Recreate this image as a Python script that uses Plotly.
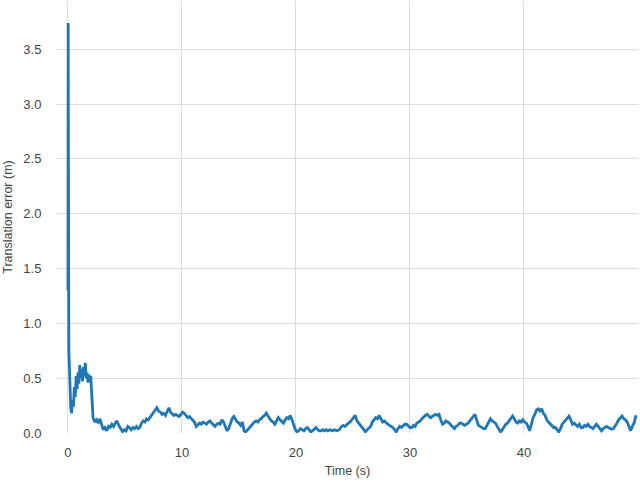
import plotly.graph_objects as go

# translation error over time
time_s = [
    0.0, 0.02, 0.04, 0.06, 0.08, 0.12, 0.18, 0.25, 0.32, 0.40, 0.48, 0.56, 0.64, 0.72, 0.80, 0.88, 0.96,
    1.04, 1.12, 1.20, 1.28, 1.36, 1.44, 1.52, 1.60, 1.68, 1.76, 1.84, 1.92, 2.00, 2.06, 2.12, 2.20,
    2.35, 2.5, 2.65, 2.8, 2.95, 3.1, 3.25, 3.4, 3.55, 3.7, 3.85, 4.0, 4.15, 4.3, 4.45, 4.6, 4.8, 4.95,
    5.1, 5.25, 5.4, 5.55, 5.7, 5.85, 6.0, 6.15, 6.3, 6.45, 6.6, 6.75, 6.9, 7.05, 7.2, 7.35, 7.5, 7.65,
    7.8, 7.95, 8.1, 8.25, 8.4, 8.55, 8.7, 8.85, 9.0, 9.15, 9.3, 9.45, 9.6, 9.75, 9.9, 10.05, 10.2,
    10.35, 10.5, 10.65, 10.8, 10.95, 11.1, 11.25, 11.4, 11.55, 11.7, 11.85, 12.0, 12.15, 12.3, 12.45,
    12.6, 12.75, 12.9, 13.05, 13.2, 13.35, 13.5, 13.65, 13.8, 13.95, 14.1, 14.25, 14.4, 14.55, 14.7,
    14.85, 15.0, 15.15, 15.3, 15.45, 15.6, 15.75, 15.9, 16.05, 16.2, 16.35, 16.5, 16.65, 16.8, 16.95,
    17.1, 17.25, 17.4, 17.55, 17.7, 17.85, 18.0, 18.15, 18.3, 18.45, 18.6, 18.75, 18.9, 19.05, 19.2,
    19.35, 19.5, 19.65, 19.8, 19.95, 20.1, 20.25, 20.4, 20.55, 20.7, 20.85, 21.0, 21.15, 21.3, 21.45,
    21.6, 21.75, 21.9, 22.05, 22.2, 22.35, 22.5, 22.65, 22.8, 23.0, 23.2, 23.4, 23.6, 23.8, 24.0,
    24.15, 24.3, 24.45, 24.6, 24.75, 24.9, 25.05, 25.2, 25.35, 25.5, 25.65, 25.8, 25.95, 26.1, 26.25,
    26.4, 26.55, 26.7, 26.85, 27.0, 27.15, 27.3, 27.45, 27.6, 27.75, 27.9, 28.05, 28.2, 28.35, 28.5,
    28.65, 28.8, 28.95, 29.1, 29.25, 29.4, 29.55, 29.7, 29.85, 30.0, 30.15, 30.3, 30.45, 30.6, 30.75,
    30.9, 31.05, 31.2, 31.35, 31.5, 31.65, 31.8, 31.95, 32.1, 32.25, 32.4, 32.55, 32.7, 32.85, 33.0,
    33.15, 33.3, 33.45, 33.6, 33.75, 33.9, 34.05, 34.2, 34.35, 34.5, 34.65, 34.8, 34.95, 35.1, 35.25,
    35.4, 35.55, 35.7, 35.85, 36.0, 36.15, 36.3, 36.45, 36.6, 36.75, 36.9, 37.05, 37.2, 37.35, 37.5,
    37.65, 37.8, 37.95, 38.1, 38.25, 38.4, 38.55, 38.7, 38.85, 39.0, 39.15, 39.3, 39.45, 39.6, 39.75,
    39.9, 40.05, 40.2, 40.35, 40.5, 40.65, 40.8, 40.95, 41.1, 41.25, 41.4, 41.55, 41.7, 41.85, 42.0,
    42.15, 42.3, 42.45, 42.6, 42.75, 42.9, 43.05, 43.2, 43.35, 43.5, 43.65, 43.8, 43.95, 44.1, 44.25,
    44.4, 44.55, 44.7, 44.85, 45.0, 45.15, 45.3, 45.45, 45.6, 45.75, 45.9, 46.05, 46.2, 46.35, 46.5,
    46.65, 46.8, 46.95, 47.1, 47.25, 47.4, 47.55, 47.7, 47.85, 48.0, 48.15, 48.3, 48.45, 48.6, 48.75,
    48.9, 49.05, 49.2, 49.35, 49.5, 49.65, 49.8, 49.85,
]

error_m = [
    1.30, 3.74, 3.20, 1.50, 0.75, 0.62, 0.35, 0.22, 0.18, 0.30, 0.24, 0.42, 0.33, 0.52, 0.40, 0.55, 0.45,
    0.62, 0.50, 0.58, 0.47, 0.60, 0.52, 0.64, 0.50, 0.55, 0.46, 0.53, 0.49, 0.52, 0.40, 0.22, 0.14,
    0.10, 0.12, 0.09, 0.13, 0.08, 0.03, 0.05, 0.02, 0.06, 0.05, 0.08, 0.06, 0.09, 0.11, 0.07, 0.04, 0.01, 0.03,
    0.02, 0.06, 0.05, 0.03, 0.05, 0.04, 0.06, 0.04, 0.05, 0.09, 0.11, 0.10, 0.13, 0.12, 0.14, 0.16, 0.19, 0.21,
    0.23, 0.20, 0.19, 0.17, 0.18, 0.16, 0.20, 0.23, 0.19, 0.17, 0.16, 0.17, 0.16, 0.15, 0.17, 0.19, 0.18,
    0.16, 0.14, 0.15, 0.13, 0.12, 0.10, 0.06, 0.08, 0.09, 0.08, 0.10, 0.09, 0.08, 0.10, 0.11,
    0.09, 0.07, 0.06, 0.08, 0.09, 0.08, 0.12, 0.10, 0.05, 0.02, 0.04, 0.09, 0.13, 0.15, 0.12,
    0.10, 0.09, 0.07, 0.10, 0.02, 0.01, 0.03, 0.05, 0.06, 0.09, 0.10, 0.11, 0.10, 0.12, 0.13,
    0.15, 0.16, 0.18, 0.15, 0.13, 0.11, 0.10, 0.08, 0.11, 0.14, 0.12, 0.10, 0.09, 0.12, 0.14,
    0.13, 0.16, 0.12, 0.07, 0.03, 0.01, 0.02, 0.04, 0.03, 0.02, 0.04, 0.05, 0.03, 0.01, 0.02,
    0.04, 0.05, 0.03, 0.02, 0.02, 0.03, 0.02, 0.03, 0.02, 0.03, 0.02, 0.03, 0.02, 0.03, 0.06,
    0.07, 0.06, 0.08, 0.09, 0.10, 0.12, 0.14, 0.16, 0.11, 0.09, 0.06, 0.04, 0.02, 0.01, 0.03,
    0.05, 0.06, 0.10, 0.12, 0.14, 0.13, 0.16, 0.13, 0.10, 0.11, 0.09, 0.08, 0.07, 0.06, 0.05,
    0.03, 0.01, 0.04, 0.06, 0.05, 0.07, 0.08, 0.08, 0.06, 0.05, 0.05, 0.07, 0.06, 0.09, 0.10,
    0.11, 0.13, 0.15, 0.16, 0.17, 0.15, 0.14, 0.15, 0.16, 0.17, 0.16, 0.17, 0.12, 0.08, 0.09,
    0.11, 0.10, 0.09, 0.07, 0.05, 0.04, 0.06, 0.07, 0.09, 0.09, 0.08, 0.07, 0.08, 0.09, 0.11,
    0.13, 0.15, 0.17, 0.12, 0.07, 0.06, 0.05, 0.04, 0.04, 0.07, 0.10, 0.13, 0.11, 0.10, 0.09,
    0.06, 0.03, 0.01, 0.03, 0.06, 0.08, 0.09, 0.11, 0.13, 0.155, 0.13, 0.10, 0.09, 0.11, 0.10,
    0.12, 0.10, 0.09, 0.06, 0.02, 0.08, 0.14, 0.17, 0.21, 0.22, 0.20, 0.22, 0.18, 0.16, 0.12,
    0.10, 0.08, 0.07, 0.05, 0.05, 0.03, 0.01, 0.04, 0.08, 0.10, 0.12, 0.14, 0.155, 0.12, 0.08,
    0.09, 0.07, 0.06, 0.08, 0.05, 0.05, 0.07, 0.06, 0.08, 0.06, 0.05, 0.04, 0.06, 0.08, 0.06,
    0.04, 0.02, 0.04, 0.05, 0.06, 0.05, 0.04, 0.035, 0.04, 0.06, 0.09, 0.12, 0.14, 0.155, 0.13,
    0.12, 0.10, 0.06, 0.02, 0.06, 0.09, 0.15, 0.16,
]

x_ticks = [0, 10, 20, 30, 40]
y_ticks = [0.0, 0.5, 1.0, 1.5, 2.0, 2.5, 3.0, 3.5]

GRID = "#dcdcdc"
TEXT = "#444444"

fig = go.Figure()
fig.add_trace(
    go.Scatter(
        x=time_s,
        y=error_m,
        mode="lines",
        line={"color": "#1f77b4", "width": 2.8},
        showlegend=False,
    )
)

fig.update_layout(
    width=640,
    height=483,
    margin={"l": 57, "r": 2, "t": 1, "b": 50},
    paper_bgcolor="white",
    plot_bgcolor="white",
    font={"family": "Liberation Sans, Arial, sans-serif", "size": 13, "color": TEXT},
    xaxis={
        "range": [-0.96, 50.0],
        "tickvals": x_ticks,
        "showgrid": True,
        "gridcolor": GRID,
        "gridwidth": 1.3,
        "zeroline": False,
        "showline": False,
        "ticks": "outside",
        "ticklen": 7,
        "tickcolor": "rgba(0,0,0,0)",
        "title": {"text": "Time (s)", "font": {"size": 12.5}, "standoff": 7},
    },
    yaxis={
        "range": [0, 3.94],
        "tickvals": y_ticks,
        "tickformat": ".1f",
        "showgrid": True,
        "gridcolor": GRID,
        "gridwidth": 1.3,
        "zeroline": False,
        "showline": False,
        "ticks": "outside",
        "ticklen": 12,
        "tickcolor": "rgba(0,0,0,0)",
        "title": {"text": "Translation error (m)", "font": {"size": 12.5}, "standoff": 7},
    },
)

# the page body has a default 8px margin; drop it so the figure fills the window
fig.write_html(
    "out.html",
    config={"displayModeBar": False},
    post_script="document.body.style.margin = '0';",
)
